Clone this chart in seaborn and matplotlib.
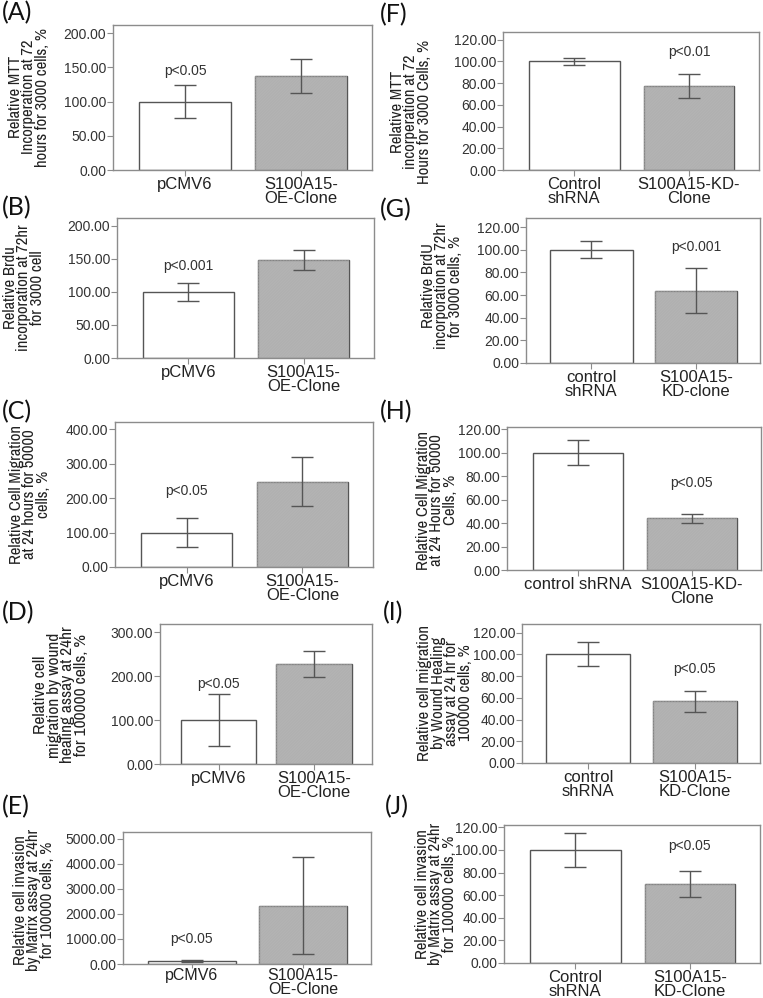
import matplotlib
matplotlib.use("Agg")
import matplotlib.pyplot as plt
from matplotlib import font_manager
from matplotlib.font_manager import FontProperties
from matplotlib.patches import Rectangle
import seaborn as sns
import pandas as pd

# ---------------- data ----------------
panel_ids = ["A", "B", "C", "D", "E", "F", "G", "H", "I", "J"]

oe_groups = ["pCMV6", "S100A15-\nOE-Clone"]
groups_F = ["Control\nshRNA", "S100A15-KD-\nClone"]
groups_G = ["control\nshRNA", "S100A15-\nKD-clone"]
groups_H = ["control shRNA", "S100A15-KD-\nClone"]
groups_I = ["control\nshRNA", "S100A15-\nKD-Clone"]
groups_J = ["Control\nshRNA", "S100A15-\nKD-Clone"]

means_A = [100, 138]; err_A = [24, 25]
means_B = [100, 149]; err_B = [14, 15]
means_C = [100, 247]; err_C = [43, 71]
means_D = [100, 228]; err_D = [60, 30]
means_E = [100, 2330]; err_E = [40, 1930]
means_F = [100, 77]; err_F = [3.5, 11]
means_G = [100, 64]; err_G = [7.5, 19.5]
means_H = [100, 44]; err_H = [10.5, 4]
means_I = [100, 57]; err_I = [11, 9.7]
means_J = [100, 70]; err_J = [15, 11.7]

yticks_A = [0, 50, 100, 150, 200]
yticks_C = [0, 100, 200, 300, 400]
yticks_D = [0, 100, 200, 300]
yticks_E = [0, 1000, 2000, 3000, 4000, 5000]
yticks_KD = [0, 20, 40, 60, 80, 100, 120]

ylabels = {
    "A": "Relative MTT\nIncorperation at 72\nhours for 3000 cells, %",
    "B": "Relative Brdu\nincorporation at 72hr\nfor 3000 cell",
    "C": "Relative Cell Migration\nat 24 hours for 50000\ncells, %",
    "D": "Relative cell\nmigration by wound\nhealing assay at 24hr\nfor 100000 cells, %",
    "E": "Relative cell invasion\nby Matrix assay at 24hr\nfor 100000 cells, %",
    "F": "Relative MTT\nincorperation at 72\nHours for 3000 Cells, %",
    "G": "Relative BrdU\nincorporation at 72hr\nfor 3000 cells, %",
    "H": "Relative Cell Migration\nat 24 Hours for 50000\nCells, %",
    "I": "Relative cell migration\nby Wound Healing\nassay at 24 hr for\n100000 cells, %",
    "J": "Relative cell invasion\nby Matrix assay at 24hr\nfor 100000 cells, %",
}
p_texts = {"A": "p<0.05", "B": "p<0.001", "C": "p<0.05", "D": "p<0.05", "E": "p<0.05",
           "F": "p<0.01", "G": "p<0.001", "H": "p<0.05", "I": "p<0.05", "J": "p<0.05"}
p_bar = {"A": 0, "B": 0, "C": 0, "D": 0, "E": 0, "F": 1, "G": 1, "H": 1, "I": 1, "J": 1}
p_y = {"A": 145, "B": 139, "C": 222, "D": 182, "E": 984,
       "F": 109, "G": 102, "H": 74, "I": 87, "J": 103.5}

data = {
    "A": (oe_groups, means_A, err_A, yticks_A, 212),
    "B": (oe_groups, means_B, err_B, yticks_A, 212),
    "C": (oe_groups, means_C, err_C, yticks_C, 421),
    "D": (oe_groups, means_D, err_D, yticks_D, 319),
    "E": (oe_groups, means_E, err_E, yticks_E, 5276),
    "F": (groups_F, means_F, err_F, yticks_KD, 127),
    "G": (groups_G, means_G, err_G, yticks_KD, 128),
    "H": (groups_H, means_H, err_H, yticks_KD, 122),
    "I": (groups_I, means_I, err_I, yticks_KD, 128),
    "J": (groups_J, means_J, err_J, yticks_KD, 122),
}

# ---------------- layout (pixels: left, right, top, bottom) ----------------
W, H = 763, 998
boxes = {
    "A": (113, 372, 25, 170), "B": (117, 374, 218, 358), "C": (115, 373, 422, 567),
    "D": (160, 372, 624, 764), "E": (123, 371, 832, 964),
    "F": (503, 759, 32, 170), "G": (526, 760, 218, 363), "H": (507, 761, 427, 570),
    "I": (522, 760, 624, 763), "J": (504, 760, 825, 963),
}
# right edge (x) and vertical centre (y) of each rotated y-axis title
label_xy = {"A": (50, 97), "B": (45, 288), "C": (51, 494), "D": (89, 695), "E": (55, 900),
            "F": (432, 112), "G": (463, 286), "H": (458, 500), "I": (473, 693), "J": (457, 894)}
label_size = {"A": 12, "B": 12, "C": 12, "D": 12.5, "E": 12,
              "F": 12, "G": 12, "H": 12, "I": 12, "J": 12}
xtick_size = {"A": 12, "B": 12, "C": 12, "D": 12, "E": 11.5,
              "F": 12, "G": 12, "H": 12, "I": 12, "J": 12}
panel_pos = {"A": (2, 1), "B": (2, 196), "C": (2, 400), "D": (2, 601), "E": (2, 795),
             "F": (380, 3), "G": (380, 198), "H": (380, 400), "I": (383, 601), "J": (385, 795)}

sns.set_theme(style="white")
plt.rcParams["font.family"] = ["Liberation Sans", "DejaVu Sans"]
plt.rcParams["hatch.linewidth"] = 0.5

# look for a narrow / condensed sans face for the y-axis titles
cands = []
for f in font_manager.fontManager.ttflist:
    nm = f.name
    if f.style != "normal" or f.weight not in (400, "normal", "regular"):
        continue
    if "Mono" in nm or "Serif" in nm:
        continue
    if "Narrow" in nm:
        cands.append((0, f.fname))
    elif "Condensed" in nm or f.stretch in ("condensed", "semi-condensed"):
        cands.append((1, f.fname))
cands.sort()
cond_path = cands[0][1] if cands else None


def ylab_font(size):
    if cond_path:
        return FontProperties(fname=cond_path, size=size)
    return FontProperties(family=["Liberation Sans", "DejaVu Sans"], size=size * 0.8)


fig = plt.figure(figsize=(W / 100, H / 100), dpi=100)
fig.patch.set_facecolor("white")

frame_col = "#8c8c8c"
edge_col = "#555555"

for pid in panel_ids:
    groups, means, errs, yticks, ytop = data[pid]
    l, r, t, b = boxes[pid]
    ax = fig.add_axes([l / W, 1 - b / H, (r - l) / W, (b - t) / H])
    df = pd.DataFrame({"group": groups, "value": means})
    sns.barplot(data=df, x="group", y="value", hue="group",
                palette=["white", "#bdbdbd"], legend=False, errorbar=None,
                width=0.79, edgecolor=edge_col, linewidth=1.0, ax=ax)
    # fine texture on the knock-down / over-expression bar
    gp = ax.patches[1]
    ax.add_patch(Rectangle(gp.get_xy(), gp.get_width(), gp.get_height(), fill=False,
                           hatch="/" * 22, edgecolor="#acacac", linewidth=0,
                           zorder=gp.get_zorder() + 0.1))
    ax.errorbar(x=[0, 1], y=means, yerr=errs, fmt="none", ecolor=edge_col,
                elinewidth=1.0, capsize=8, capthick=1.0, zorder=5)
    ax.set_xlim(-0.62, 1.61)
    ax.set_ylim(0, ytop)
    ax.set_yticks(yticks)
    ax.set_yticklabels([f"{v:.2f}" for v in yticks], fontsize=10, color="#333333")
    ax.set_xticks([0, 1])
    ax.set_xticklabels(groups, fontsize=xtick_size[pid], color="#222222",
                       linespacing=0.9 if pid == "E" else 0.95)
    ax.tick_params(axis="both", direction="out", length=4, width=0.8, color=frame_col,
                   left=True, bottom=True, pad=1)
    if pid == "E":
        ax.tick_params(axis="x", pad=0, length=3)
    ax.set_xlabel("")
    ax.set_ylabel(ylabels[pid], fontproperties=ylab_font(label_size[pid]),
                  linespacing=0.88, color="#222222")
    lx, ly = label_xy[pid]
    ax.yaxis.set_label_coords((lx - l) / (r - l), (b - ly) / (b - t))
    for s in ax.spines.values():
        s.set_visible(True)
        s.set_color(frame_col)
        s.set_linewidth(1.0)
    ax.text(p_bar[pid], p_y[pid], p_texts[pid], ha="center", va="center",
            fontsize=10, color="#333333")
    px, py = panel_pos[pid]
    fig.text(px / W, 1 - py / H, f"({pid})", ha="left", va="top", fontsize=18,
             family=["Lato", "DejaVu Sans"], color="#111111")

fig.savefig("out.png", dpi=100, facecolor="white")
